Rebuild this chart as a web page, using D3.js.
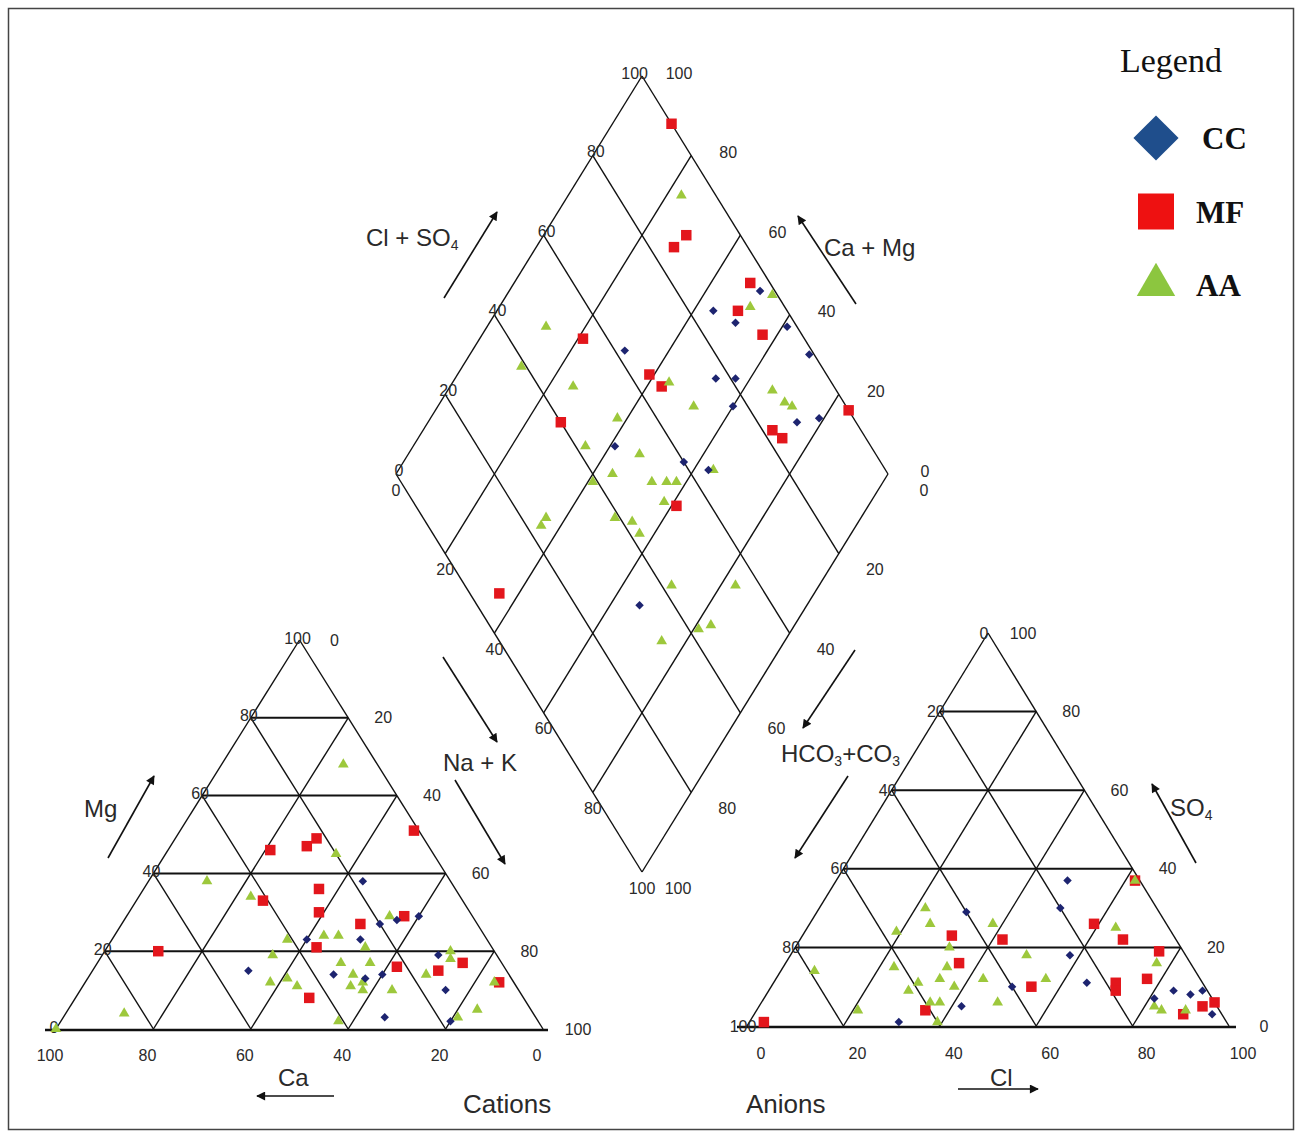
<!DOCTYPE html>
<html>
<head>
<meta charset="utf-8">
<script src="https://cdnjs.cloudflare.com/ajax/libs/d3/7.8.5/d3.min.js"></script>
<style>
  body { margin: 0; background: #fff; }
  text { font-family: "Liberation Sans", Arial, sans-serif; fill: #2a2a2a; }
  .tick-label { font-size: 16px; }
  .axis-title { font-size: 24px; }
  .panel-title { font-size: 26px; }
  .legend-title { font-family: "Liberation Serif", "Times New Roman", serif; font-size: 34px; fill: #111; }
  .legend-text { font-family: "Liberation Serif", "Times New Roman", serif; font-size: 31px; font-weight: bold; fill: #111; }
</style>
</head>
<body>
<div id="piper"></div>
<script>

// Data (percent of meq/L)
// ==============================
var groups = ["MF", "AA", "CC"];
var tickValues = [0, 20, 40, 60, 80, 100];
var gridLevels = [20, 40, 60, 80];

// cation triangle: [Mg, Na+K]  (Ca is the remainder)
var cationCC = [[38, 44], [29, 60], [28, 56], [27, 53], [23, 51], [23, 40], [19, 69], [15, 32],
    [14, 50], [14, 60], [13, 57], [10, 75], [3, 66], [2, 80]];
var cationMF = [[51, 48], [46, 21], [47, 28], [49, 29], [36, 36], [33, 26], [30, 39], [27, 49],
    [29, 57], [20, 11], [21, 43], [16, 62], [17, 75], [15, 71], [12, 85], [8, 48]];
var cationAA = [[68, 25], [45, 35], [38, 12], [34, 23], [29, 54], [24, 43], [24, 46], [23, 36],
    [21, 53], [19, 35], [17, 50], [17, 56], [20, 71], [18, 72], [13, 41], [12, 38], [11, 44],
    [14, 54], [12, 57], [11, 55], [10, 58], [10, 64], [14, 69], [5, 84], [2, 57], [3, 81],
    [4, 12], [0, 0], [12, 84]];

// anion triangle: [SO4, Cl]  (HCO3+CO3 is the remainder)
var anionCC = [[37, 48], [30, 50], [29, 31], [18, 58], [11, 65], [10, 50], [5, 42], [1, 31],
    [9, 84], [8, 88], [9, 90], [7, 81], [3, 95]];
var anionMF = [[1, 3], [37, 62], [23, 31], [22, 42], [26, 59], [22, 67], [19, 76], [16, 36],
    [10, 54], [11, 71], [9, 72], [12, 77], [4, 35], [5, 92], [6, 94], [3, 89]];
var anionAA = [[37, 62], [30, 22], [26, 25], [24, 19], [26, 38], [25, 64], [20, 32], [18, 49],
    [14, 7], [15, 23], [15, 34], [16, 77], [11, 30], [9, 29], [12, 34], [10, 38], [12, 43],
    [12, 56], [6, 35], [6, 37], [6, 49], [1, 39], [4, 21], [4, 84], [5, 82], [4, 89]];

// diamond: [Ca+Mg, Cl+SO4]
var diamondCC = [[56, 85], [49, 97], [50, 88], [39, 98], [31, 99], [69, 62], [47, 77], [43, 81],
    [40, 77], [25, 88], [21, 93], [59, 48], [43, 60], [37, 64], [34, 33]];
var diamondMF = [[88, 100], [71, 89], [72, 85], [52, 96], [51, 90], [43, 92], [79, 55], [61, 64],
    [57, 65], [73, 40], [29, 82], [26, 83], [16, 100], [39, 53], [64, 6]];
var diamondAA = [[77, 93], [49, 93], [46, 99], [88, 49], [88, 39], [75, 47], [56, 67], [48, 69],
    [34, 87], [30, 88], [28, 89], [62, 52], [65, 42], [53, 52], [56, 44], [59, 39], [47, 51],
    [44, 54], [42, 56], [42, 51], [64, 25], [64, 23], [50, 39], [46, 42], [43, 42], [36, 65],
    [30, 42], [17, 55], [17, 45], [19, 42], [25, 33]];

var cationData = { CC: cationCC, MF: cationMF, AA: cationAA };
var anionData = { CC: anionCC, MF: anionMF, AA: anionAA };
var diamondData = { CC: diamondCC, MF: diamondMF, AA: diamondAA };

// Setup
// ==============================
var svgWidth = 1302;
var svgHeight = 1134;

var svg = d3.select("#piper")
    .append("svg")
    .attr("width", svgWidth)
    .attr("height", svgHeight);

svg.append("defs").append("marker")
    .attr("id", "arrow")
    .attr("viewBox", "0 0 10 10")
    .attr("refX", 9)
    .attr("refY", 5)
    .attr("markerUnits", "userSpaceOnUse")
    .attr("markerWidth", 11)
    .attr("markerHeight", 9)
    .attr("orient", "auto")
    .append("path")
    .attr("d", "M0,0 L10,5 L0,10 z")
    .attr("fill", "#111");

// outer frame
svg.append("rect")
    .attr("x", 8.5).attr("y", 8.5)
    .attr("width", 1285).attr("height", 1121)
    .attr("fill", "none")
    .attr("stroke", "#444")
    .attr("stroke-width", 1.5);

// Scales
// ==============================
// cation triangle: x from (Na+K + Mg/2), y from Mg
var catX = d3.scaleLinear().domain([0, 100]).range([56, 543]);
var catY = d3.scaleLinear().domain([0, 100]).range([1029, 640]);
function cationPt(mg, nak) { return [catX(nak + mg / 2), catY(mg)]; }

// anion triangle: x from (Cl + SO4/2), y from SO4
var anX = d3.scaleLinear().domain([0, 100]).range([747, 1229]);
var anY = d3.scaleLinear().domain([0, 100]).range([1026, 633]);
function anionPt(so4, cl) { return [anX(cl + so4 / 2), anY(so4)]; }

// diamond: x from difference, y from sum
var diaX = d3.scaleLinear().domain([-100, 100]).range([396, 888]);
var diaY = d3.scaleLinear().domain([0, 200]).range([872, 76]);
function diamondPt(camg, clso4) { return [diaX(clso4 - camg), diaY(clso4 + camg)]; }

var line = d3.line();
var gridGroup = svg.append("g").attr("class", "grid");

function seg(p1, p2, w) {
    gridGroup.append("path")
        .attr("d", line([p1, p2]))
        .attr("fill", "none")
        .attr("stroke", "#111")
        .attr("stroke-width", w || 1.4);
}

// Grids
// ==============================
// triangle base extensions
seg([45, catY(0) + 1], [548, catY(0) + 1], 2.5);
seg([737, anY(0) + 1], [1236, anY(0) + 1], 2.5);

// cation triangle
seg(cationPt(0, 0), cationPt(100, 0));
seg(cationPt(100, 0), cationPt(0, 100));
gridLevels.forEach(function (v) {
    seg(cationPt(v, 0), cationPt(v, 100 - v), 2);       // Mg
    seg(cationPt(0, v), cationPt(100 - v, v));          // Na+K
    seg(cationPt(0, 100 - v), cationPt(100 - v, 0));    // Ca
});

// anion triangle
seg(anionPt(0, 0), anionPt(100, 0));
seg(anionPt(100, 0), anionPt(0, 100));
gridLevels.forEach(function (v) {
    seg(anionPt(v, 0), anionPt(v, 100 - v), 2);         // SO4
    seg(anionPt(0, v), anionPt(100 - v, v));            // Cl
    seg(anionPt(0, 100 - v), anionPt(100 - v, 0));      // HCO3+CO3
});

// diamond
tickValues.forEach(function (v) {
    seg(diamondPt(v, 0), diamondPt(v, 100));
    seg(diamondPt(0, v), diamondPt(100, v));
});

// Tick labels
// ==============================
var labelGroup = svg.append("g").attr("class", "tick-label");

function label(x, y, t, anchor) {
    labelGroup.append("text")
        .attr("x", x).attr("y", y)
        .attr("dy", "0.35em")
        .attr("text-anchor", anchor || "middle")
        .text(t);
}

tickValues.forEach(function (v) {
    var p;
    // diamond
    p = diamondPt(100, v);
    if (v === 100) label(p[0] + 6, p[1] - 3, v, "end");
    else label(p[0] + 3, p[1] - 4, v);
    p = diamondPt(v, 100);
    label(p[0] + 37, p[1] - 3, v);
    p = diamondPt(100 - v, 0);
    label(p[0], p[1] + 16, v);
    p = diamondPt(0, 100 - v);
    label(p[0] + 36, p[1] + 16, v);

    // cations
    p = cationPt(v, 0);
    label(p[0] - 2, p[1] - 2, v);
    p = cationPt(100 - v, v);
    label(p[0] + 35, p[1], v);
    p = cationPt(0, 100 - v);
    label(p[0] - 6, 1055, v);

    // anions
    p = anionPt(100 - v, 0);
    label(p[0] - 4, p[1], v);
    p = anionPt(v, 100 - v);
    label(p[0] + 35, p[1], v);
    p = anionPt(0, v);
    label(p[0] + 14, 1053, v);
});

// Axis titles and arrows
// ==============================
var titleGroup = svg.append("g").attr("class", "axis-title");

// parts: plain strings, or ["4"] arrays for subscripts
function title(x, y, parts, cls) {
    var t = titleGroup.append("text").attr("x", x).attr("y", y);
    if (cls) t.attr("class", cls);
    var shifted = false;
    parts.forEach(function (part) {
        if (typeof part === "string") {
            t.append("tspan").attr("dy", shifted ? -4 : 0).text(part);
            shifted = false;
        } else {
            t.append("tspan").attr("font-size", "14px").attr("dy", 4).text(part[0]);
            shifted = true;
        }
    });
}

function arrow(x1, y1, x2, y2) {
    titleGroup.append("line")
        .attr("x1", x1).attr("y1", y1)
        .attr("x2", x2).attr("y2", y2)
        .attr("stroke", "#111")
        .attr("stroke-width", 1.6)
        .attr("marker-end", "url(#arrow)");
}

title(366, 246, ["Cl + SO", ["4"]]);
arrow(444, 298, 497, 212);
title(824, 256, ["Ca + Mg"]);
arrow(856, 304, 798, 216);

title(443, 771, ["Na + K"]);
arrow(443, 657, 497, 742);
arrow(455, 780, 505, 864);

title(781, 762, ["HCO", ["3"], "+CO", ["3"]]);
arrow(855, 650, 803, 728);
arrow(848, 776, 795, 858);

title(84, 817, ["Mg"]);
arrow(108, 858, 154, 776);
title(1170, 816, ["SO", ["4"]]);
arrow(1196, 863, 1152, 784);

title(278, 1086, ["Ca"]);
arrow(334, 1096, 257, 1096);
title(990, 1086, ["Cl"]);
arrow(958, 1089, 1038, 1089);

title(463, 1113, ["Cations"], "panel-title");
title(746, 1113, ["Anions"], "panel-title");

// Sample points
// ==============================
var colors = { CC: "#1d2470", MF: "#e3161c", AA: "#9dc83c" };
var symbols = {
    CC: d3.symbol().type(d3.symbolSquare).size(36),
    MF: d3.symbol().type(d3.symbolSquare).size(110),
    AA: d3.symbol().type(d3.symbolTriangle).size(50)
};

var pointGroup = svg.append("g").attr("class", "points");

function plotPoints(data, proj, key) {
    pointGroup.append("g")
        .selectAll("path")
        .data(data)
        .enter()
        .append("path")
        .attr("d", symbols[key]())
        .attr("fill", colors[key])
        .attr("transform", function (d) {
            var p = proj(d[0], d[1]);
            return "translate(" + p[0] + "," + p[1] + ")" + (key === "CC" ? " rotate(45)" : "");
        });
}

groups.forEach(function (key) {
    plotPoints(cationData[key], cationPt, key);
    plotPoints(anionData[key], anionPt, key);
    plotPoints(diamondData[key], diamondPt, key);
});

// Legend
// ==============================
var legend = svg.append("g").attr("class", "legend");

legend.append("text")
    .attr("class", "legend-title")
    .attr("x", 1120).attr("y", 72)
    .text("Legend");

var legendItems = ["CC", "MF", "AA"];
var legendY = d3.scalePoint().domain(legendItems).range([138, 285]);
var legendSymbols = {
    CC: d3.symbol().type(d3.symbolSquare).size(1020),
    MF: d3.symbol().type(d3.symbolSquare).size(1296),
    AA: d3.symbol().type(d3.symbolTriangle).size(640)
};
var legendColors = { CC: "#1f4e8c", MF: "#ee1111", AA: "#8cc63f" };

legendItems.forEach(function (key) {
    var y = legendY(key);
    legend.append("path")
        .attr("d", legendSymbols[key]())
        .attr("fill", legendColors[key])
        .attr("transform", "translate(1156," + y + ")" + (key === "CC" ? " rotate(45)" : ""));
    legend.append("text")
        .attr("class", "legend-text")
        .attr("x", key === "CC" ? 1202 : 1196)
        .attr("y", y + 11)
        .text(key);
});

</script>
</body>
</html>
